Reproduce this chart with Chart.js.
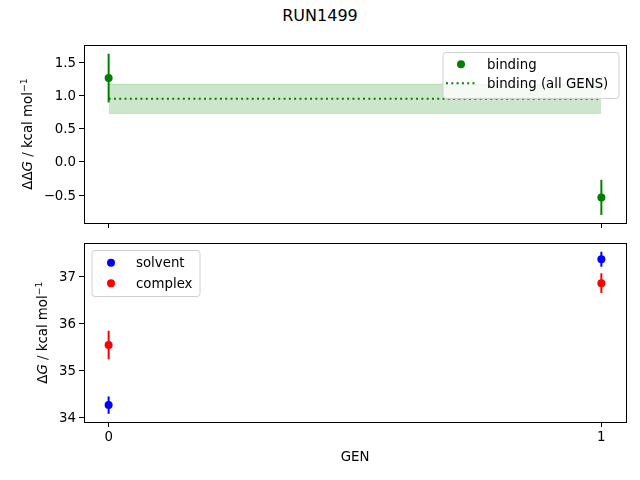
<!DOCTYPE html>
<html><head><meta charset="utf-8">
<script src="https://cdn.jsdelivr.net/npm/chart.js@4"></script>
<style>
html,body{margin:0;padding:0;background:#fff;}
#wrap{position:relative;width:640px;height:480px;overflow:hidden;}
#title{position:absolute;left:0;top:6px;width:640px;text-align:center;font:16px "DejaVu Sans";color:#000;line-height:19px;}
canvas{position:absolute;left:0;}
</style></head><body>
<div id="wrap">
<div id="title">RUN1499</div>
<canvas id="c1" width="640" height="240" style="top:0"></canvas>
<canvas id="c2" width="640" height="260" style="top:220px"></canvas>
</div>
<script>
// ---- data ----
const gens = [0, 1];
const binding = [1.268, -0.535];
const bindingErr = [0.367, 0.265];
const bindingAll = 0.955;
const bindingAllErr = 0.22;
const solvent = [34.26, 37.37];
const solventErr = [0.185, 0.16];
const complex = [35.54, 36.86];
const complexErr = [0.305, 0.21];
const xTicks = [0, 1];
const topTicks = [-0.5, 0.0, 0.5, 1.0, 1.5];
const bottomTicks = [34, 35, 36, 37];

const FONT = "'DejaVu Sans', sans-serif";
const fs = 13.33;

function pts(xs, ys) { return xs.map((x, i) => ({x: x, y: ys[i]})); }
function fmtTop(v) { return v.toFixed(1).replace('-', '\u2212'); }

const errPlugin = {
  id: 'errbars',
  beforeDatasetDraw(chart, args) {
    const ds = chart.data.datasets[args.index];
    if (!ds.errs) return;
    const ys = chart.scales.y, xs = chart.scales.x;
    const ctx = chart.ctx;
    ctx.save();
    ctx.strokeStyle = ds.backgroundColor;
    ctx.lineWidth = 2;
    ds.data.forEach((p, i) => {
      const px = xs.getPixelForValue(p.x);
      ctx.beginPath();
      ctx.moveTo(px, ys.getPixelForValue(p.y - ds.errs[i]));
      ctx.lineTo(px, ys.getPixelForValue(p.y + ds.errs[i]));
      ctx.stroke();
    });
    ctx.restore();
  }
};

const framePlugin = {
  id: 'frame',
  afterDraw(chart) {
    const a = chart.chartArea, ctx = chart.ctx;
    ctx.save();
    ctx.strokeStyle = '#000';
    ctx.lineWidth = 1;
    ctx.strokeRect(Math.round(a.left) + 0.5, Math.round(a.top) + 0.5,
      Math.round(a.right - a.left), Math.round(a.bottom - a.top));
    ctx.restore();
  }
};

// y-axis title with italic G and superscript, drawn as text
const ytitlePlugin = {
  id: 'ytitle',
  afterDraw(chart, args, opts) {
    if (!opts.segs) return;
    const ctx = chart.ctx, a = chart.chartArea;
    const fontOf = s => (s.italic ? 'oblique ' : '') + (s.sup ? fs * 0.7 : fs) + 'px ' + FONT;
    let total = 0;
    opts.segs.forEach(s => { ctx.font = fontOf(s); total += ctx.measureText(s.t).width; });
    ctx.save();
    ctx.translate(opts.x, (a.top + a.bottom) / 2);
    ctx.rotate(-Math.PI / 2);
    ctx.fillStyle = '#000';
    ctx.textBaseline = 'alphabetic';
    ctx.textAlign = 'left';
    let x = -total / 2;
    opts.segs.forEach(s => {
      ctx.font = fontOf(s);
      ctx.fillText(s.t, x, 5 - (s.sup ? 5 : 0));
      x += ctx.measureText(s.t).width;
    });
    ctx.restore();
  }
};

const legendPlugin = {
  id: 'mlegend',
  afterDraw(chart, args, opts) {
    if (!opts.items) return;
    const ctx = chart.ctx;
    const b = opts.box;
    ctx.save();
    ctx.fillStyle = 'rgba(255,255,255,0.8)';
    ctx.strokeStyle = '#d0d0d0';
    ctx.lineWidth = 1;
    ctx.beginPath();
    ctx.roundRect(b.x + 0.5, b.y + 0.5, b.w, b.h, 3);
    ctx.fill();
    ctx.stroke();
    ctx.font = fs + 'px ' + FONT;
    ctx.textBaseline = 'middle';
    ctx.textAlign = 'left';
    opts.items.forEach((it, i) => {
      const y = b.y + opts.row0 + i * opts.rowH;
      if (it.type === 'point') {
        ctx.fillStyle = it.color;
        ctx.beginPath();
        ctx.arc(opts.markX, y, 4, 0, Math.PI * 2);
        ctx.fill();
      } else {
        ctx.strokeStyle = it.color;
        ctx.lineWidth = 2;
        ctx.setLineDash([2, 3.3]);
        ctx.beginPath();
        ctx.moveTo(opts.markX - 15, y);
        ctx.lineTo(opts.markX + 14, y);
        ctx.stroke();
        ctx.setLineDash([]);
      }
      ctx.fillStyle = '#000';
      ctx.fillText(it.label, opts.textX, y + 1);
    });
    ctx.restore();
  }
};

function xScale(showLabels, axisH, title) {
  return {
    type: 'linear', min: -0.05, max: 1.05,
    afterBuildTicks: s => { s.ticks = xTicks.map(v => ({value: v})); },
    afterFit: s => { s.height = axisH; },
    ticks: {
      color: '#000', font: {family: FONT, size: fs}, padding: 3, maxRotation: 0,
      callback: v => showLabels ? String(v) : ''
    },
    grid: {display: true, drawOnChartArea: false, drawTicks: true, tickLength: 5, tickColor: '#000', lineWidth: 1},
    border: {display: false},
    title: title ? {display: true, text: title, color: '#000', font: {family: FONT, size: fs}, padding: {top: 0, bottom: 14}} : {display: false}
  };
}

function yScale(min, max, ticks, fmt) {
  return {
    type: 'linear', min: min, max: max,
    afterBuildTicks: s => { s.ticks = ticks.map(v => ({value: v})); },
    afterFit: s => { s.width = 84; },
    ticks: {color: '#000', font: {family: FONT, size: fs}, padding: 3, labelOffset: 1, callback: fmt},
    grid: {display: true, drawOnChartArea: false, drawTicks: true, tickLength: 5, tickColor: '#000', lineWidth: 1},
    border: {display: false},
    title: {display: false}
  };
}

const common = {
  responsive: false, animation: false,
  plugins: {legend: {display: false}, tooltip: {enabled: false}, title: {display: false}}
};

new Chart(document.getElementById('c1'), {
  type: 'scatter',
  data: {
    datasets: [
      {label: 'binding', data: pts(gens, binding), errs: bindingErr,
       backgroundColor: '#008000', borderColor: '#008000', pointRadius: 4, pointBorderWidth: 0, showLine: false},
      {label: 'binding (all GENS)', type: 'line', data: pts(gens, gens.map(() => bindingAll)),
       borderColor: '#008000', borderWidth: 2, borderDash: [2, 3.3], pointRadius: 0, fill: false},
      {label: 'band lo', type: 'line', data: pts(gens, gens.map(() => bindingAll - bindingAllErr)),
       borderColor: 'rgba(0,128,0,0.2)', borderWidth: 1, pointRadius: 0, fill: false},
      {label: 'band hi', type: 'line', data: pts(gens, gens.map(() => bindingAll + bindingAllErr)),
       borderColor: 'rgba(0,128,0,0.2)', borderWidth: 1, pointRadius: 0,
       backgroundColor: 'rgba(0,128,0,0.2)', fill: '-1'}
    ]
  },
  options: Object.assign({}, common, {
    layout: {padding: {left: 0, right: 14, top: 45, bottom: 0}},
    scales: {
      x: xScale(false, 17, null),
      y: yScale(-0.922, 1.768, topTicks, fmtTop)
    },
    plugins: Object.assign({}, common.plugins, {
      ytitle: {x: 27, segs: [{t: '\u0394\u0394'}, {t: 'G', italic: true}, {t: ' / kcal mol'}, {t: '\u22121', sup: true}]},
      mlegend: {
        box: {x: 442.5, y: 52, w: 176, h: 46}, markX: 461, textX: 487, row0: 12.3, rowH: 19,
        items: [{type: 'point', color: '#008000', label: 'binding'},
                {type: 'line', color: '#008000', label: 'binding (all GENS)'}]
      }
    })
  }),
  plugins: [errPlugin, framePlugin, ytitlePlugin, legendPlugin]
});

new Chart(document.getElementById('c2'), {
  type: 'scatter',
  data: {
    datasets: [
      {label: 'solvent', data: pts(gens, solvent), errs: solventErr,
       backgroundColor: '#0000ff', borderColor: '#0000ff', pointRadius: 4, pointBorderWidth: 0},
      {label: 'complex', data: pts(gens, complex), errs: complexErr,
       backgroundColor: '#ff0000', borderColor: '#ff0000', pointRadius: 4, pointBorderWidth: 0}
    ]
  },
  options: Object.assign({}, common, {
    layout: {padding: {left: 0, right: 14, top: 23.3, bottom: 0}},
    scales: {
      x: xScale(true, 58, 'GEN'),
      y: yScale(33.90, 37.71, bottomTicks, v => String(v))
    },
    plugins: Object.assign({}, common.plugins, {
      ytitle: {x: 42, segs: [{t: '\u0394'}, {t: 'G', italic: true}, {t: ' / kcal mol'}, {t: '\u22121', sup: true}]},
      mlegend: {
        box: {x: 91.5, y: 30, w: 108, h: 46}, markX: 111, textX: 136, row0: 12.7, rowH: 20.6,
        items: [{type: 'point', color: '#0000ff', label: 'solvent'},
                {type: 'point', color: '#ff0000', label: 'complex'}]
      }
    })
  }),
  plugins: [errPlugin, framePlugin, ytitlePlugin, legendPlugin]
});
</script>
</body></html>
